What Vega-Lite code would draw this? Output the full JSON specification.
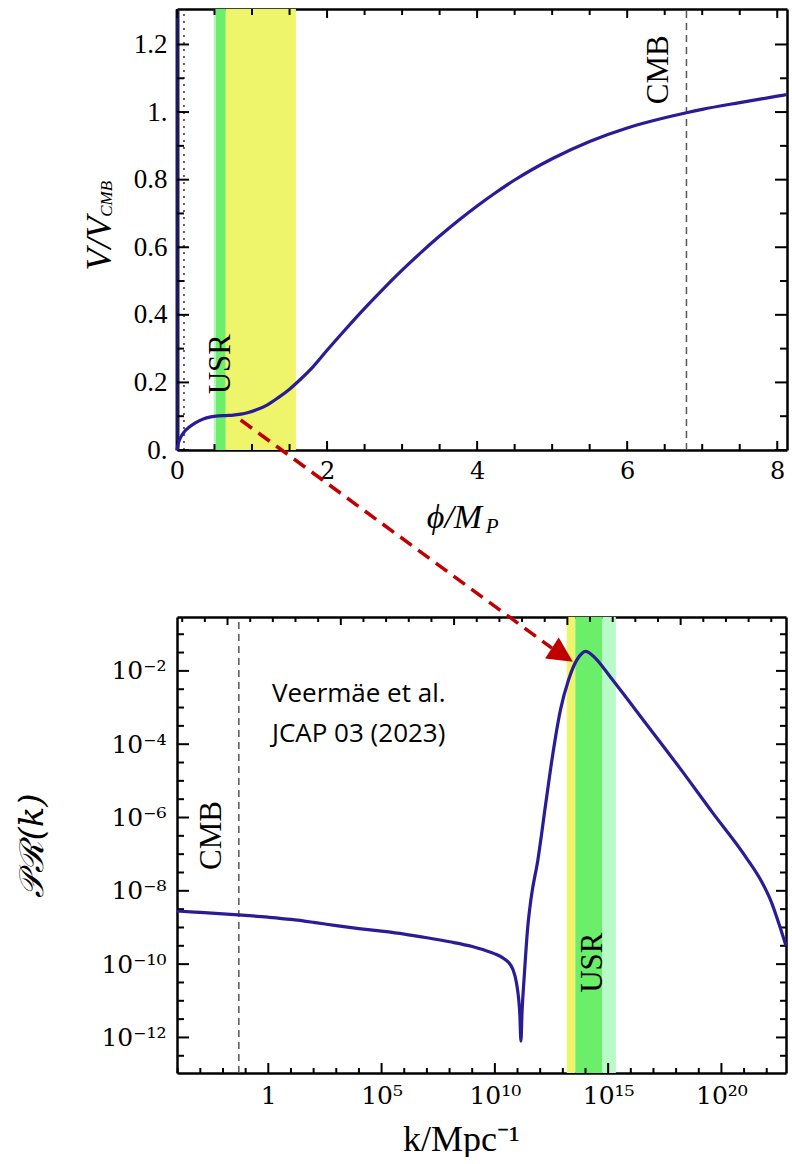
{
  "$schema": "https://vega.github.io/schema/vega-lite/v6.json",
  "background": "white",
  "padding": {"left": 15, "top": 8, "right": 0, "bottom": 0},
  "autosize": {"type": "pad"},
  "bounds": "flush",
  "spacing": 167,
  "config": {
    "view": {"stroke": null},
    "axis": {"grid": false, "ticks": false, "domainColor": "black", "domainWidth": 2.5, "labelColor": "black", "titleColor": "black", "labelFlush": false, "labelOverlap": false, "labelBound": false, "zindex": 1}
  },
  "datasets": {
    "phiMajor": [{"phi": 0}, {"phi": 2}, {"phi": 4}, {"phi": 6}, {"phi": 8}],
    "phiMinor": [{"phi": 0.5}, {"phi": 1}, {"phi": 1.5}, {"phi": 2.5}, {"phi": 3}, {"phi": 3.5}, {"phi": 4.5}, {"phi": 5}, {"phi": 5.5}, {"phi": 6.5}, {"phi": 7}, {"phi": 7.5}],
    "vMajor": [{"v": 0}, {"v": 0.2}, {"v": 0.4}, {"v": 0.6}, {"v": 0.8}, {"v": 1}, {"v": 1.2}],
    "vMinor": [{"v": 0.1}, {"v": 0.3}, {"v": 0.5}, {"v": 0.7}, {"v": 0.9}, {"v": 1.1}],
    "kMajor": [{"k": 1}, {"k": 1e5}, {"k": 1e10}, {"k": 1e15}, {"k": 1e20}],
    "kMinor": [{"k": 1e-4}, {"k": 1e-3}, {"k": 1e-2}, {"k": 1e-1}, {"k": 10}, {"k": 100}, {"k": 1e3}, {"k": 1e4}, {"k": 1e6}, {"k": 1e7}, {"k": 1e8}, {"k": 1e9}, {"k": 1e11}, {"k": 1e12}, {"k": 1e13}, {"k": 1e14}, {"k": 1e16}, {"k": 1e17}, {"k": 1e18}, {"k": 1e19}, {"k": 1e21}, {"k": 1e22}],
    "kTopMajor": [{"k": 0.015849}, {"k": 1584.9}, {"k": 1.5849e8}, {"k": 1.5849e13}, {"k": 1.5849e18}],
    "kTopMinor": [{"k": 1.5849e-4}, {"k": 1.5849e-3}, {"k": 0.15849}, {"k": 1.5849}, {"k": 15.849}, {"k": 158.49}, {"k": 1.5849e4}, {"k": 1.5849e5}, {"k": 1.5849e6}, {"k": 1.5849e7}, {"k": 1.5849e9}, {"k": 1.5849e10}, {"k": 1.5849e11}, {"k": 1.5849e12}, {"k": 1.5849e14}, {"k": 1.5849e15}, {"k": 1.5849e16}, {"k": 1.5849e17}, {"k": 1.5849e19}, {"k": 1.5849e20}, {"k": 1.5849e21}, {"k": 1.5849e22}],
    "pMajor": [{"P": 1e-2}, {"P": 1e-4}, {"P": 1e-6}, {"P": 1e-8}, {"P": 1e-10}, {"P": 1e-12}],
    "pMinor": [{"P": 0.1}, {"P": 0.031623}, {"P": 3.1623e-3}, {"P": 1e-3}, {"P": 3.1623e-4}, {"P": 3.1623e-5}, {"P": 1e-5}, {"P": 3.1623e-6}, {"P": 3.1623e-7}, {"P": 1e-7}, {"P": 3.1623e-8}, {"P": 3.1623e-9}, {"P": 1e-9}, {"P": 3.1623e-10}, {"P": 3.1623e-11}, {"P": 1e-11}, {"P": 3.1623e-12}, {"P": 3.1623e-13}]
  },
  "vconcat": [
    {
      "width": 610,
      "height": 441,
      "layer": [
        {
          "data": {"values": [
            {"x1": 0.49, "x2": 0.52, "c": "#b4f7b4"},
            {"x1": 0.52, "x2": 0.65, "c": "#6bef6b"},
            {"x1": 0.65, "x2": 1.585, "c": "#eff56a"}
          ]},
          "mark": {"type": "rect"},
          "encoding": {
            "x": {"field": "x1", "type": "quantitative", "scale": {"domain": [0, 8.13], "nice": false, "zero": false},
              "axis": {"orient": "bottom", "values": [0, 2, 4, 6, 8], "ticks": false, "labelPadding": 9, "labelFont": "DejaVu Serif", "labelFontSize": 24, "format": "d",
                "title": "ϕ/M", "titleFont": "Liberation Serif", "titleFontSize": 34, "titleFontStyle": "italic", "titleFontWeight": "normal", "titleX": 277, "titleY": 77, "titleBaseline": "alphabetic", "titleAlign": "center"}},
            "x2": {"field": "x2"},
            "y": {"datum": 0, "type": "quantitative", "scale": {"domain": [0, 1.305], "nice": false, "zero": false},
              "axis": {"orient": "left", "values": [0, 0.2, 0.4, 0.6, 0.8, 1, 1.2], "ticks": false, "labelPadding": 10, "labelFont": "Liberation Serif", "labelFontSize": 27,
                "labelExpr": "datum.value == 0 ? '0.' : datum.value == 1 ? '1.' : format(datum.value, '.1f')", "domainColor": "#1c1a5c", "domainWidth": 4,
                "title": "V/V", "titleFont": "Liberation Serif", "titleFontSize": 36, "titleFontStyle": "italic", "titleFontWeight": "normal", "titleX": -78, "titleY": 234, "titleAngle": -90, "titleBaseline": "middle", "titleAlign": "center"}},
            "y2": {"datum": 1.305},
            "color": {"field": "c", "type": "nominal", "scale": null}
          }
        },
        {
          "data": {"values": [{"phi": 0.093}]},
          "mark": {"type": "rule", "strokeDash": [2, 5], "strokeWidth": 1.5, "color": "#333333"},
          "encoding": {
            "x": {"field": "phi", "type": "quantitative", "scale": {"domain": [0, 8.13], "nice": false, "zero": false},
              "axis": {"orient": "top", "values": [0, 2, 4, 6, 8], "ticks": false, "labels": false, "title": null}},
            "y": {"datum": 0, "type": "quantitative", "scale": {"domain": [0, 1.305], "nice": false, "zero": false},
              "axis": {"orient": "right", "values": [0, 0.2, 0.4, 0.6, 0.8, 1, 1.2], "ticks": false, "labels": false, "title": null}},
            "y2": {"datum": 1.305}
          }
        },
        {
          "data": {"values": [{"phi": 6.79}]},
          "mark": {"type": "rule", "strokeDash": [7, 5], "strokeWidth": 1.5, "color": "#555555"},
          "encoding": {
            "x": {"field": "phi", "type": "quantitative", "axis": null},
            "y": {"datum": 0, "type": "quantitative", "axis": null},
            "y2": {"datum": 1.305}
          }
        },
        {"data": {"name": "phiMajor"}, "mark": {"type": "tick", "orient": "vertical", "size": 9, "thickness": 2, "yOffset": -4.5, "color": "black", "opacity": 1},
          "encoding": {"x": {"field": "phi", "type": "quantitative", "axis": null}, "y": {"datum": 0, "type": "quantitative", "axis": null}}},
        {"data": {"name": "phiMinor"}, "mark": {"type": "tick", "orient": "vertical", "size": 6, "thickness": 2, "yOffset": -3, "color": "black", "opacity": 1},
          "encoding": {"x": {"field": "phi", "type": "quantitative", "axis": null}, "y": {"datum": 0, "type": "quantitative", "axis": null}}},
        {"data": {"name": "phiMajor"}, "mark": {"type": "tick", "orient": "vertical", "size": 9, "thickness": 2, "yOffset": 4.5, "color": "black", "opacity": 1},
          "encoding": {"x": {"field": "phi", "type": "quantitative", "axis": null}, "y": {"datum": 1.305, "type": "quantitative", "axis": null}}},
        {"data": {"name": "phiMinor"}, "mark": {"type": "tick", "orient": "vertical", "size": 6, "thickness": 2, "yOffset": 3, "color": "black", "opacity": 1},
          "encoding": {"x": {"field": "phi", "type": "quantitative", "axis": null}, "y": {"datum": 1.305, "type": "quantitative", "axis": null}}},
        {"data": {"name": "vMajor"}, "mark": {"type": "tick", "orient": "horizontal", "size": 12, "thickness": 2, "xOffset": 6, "color": "black", "opacity": 1},
          "encoding": {"y": {"field": "v", "type": "quantitative", "axis": null}, "x": {"datum": 0, "type": "quantitative", "axis": null}}},
        {"data": {"name": "vMinor"}, "mark": {"type": "tick", "orient": "horizontal", "size": 7, "thickness": 2, "xOffset": 3.5, "color": "black", "opacity": 1},
          "encoding": {"y": {"field": "v", "type": "quantitative", "axis": null}, "x": {"datum": 0, "type": "quantitative", "axis": null}}},
        {"data": {"name": "vMajor"}, "mark": {"type": "tick", "orient": "horizontal", "size": 12, "thickness": 2, "xOffset": -6, "color": "black", "opacity": 1},
          "encoding": {"y": {"field": "v", "type": "quantitative", "axis": null}, "x": {"datum": 8.13, "type": "quantitative", "axis": null}}},
        {"data": {"name": "vMinor"}, "mark": {"type": "tick", "orient": "horizontal", "size": 7, "thickness": 2, "xOffset": -3.5, "color": "black", "opacity": 1},
          "encoding": {"y": {"field": "v", "type": "quantitative", "axis": null}, "x": {"datum": 8.13, "type": "quantitative", "axis": null}}},
        {
          "data": {"values": [
            {"phi": 0, "v": 0}, {"phi": 0.02, "v": 0.022}, {"phi": 0.05, "v": 0.038}, {"phi": 0.1, "v": 0.055},
            {"phi": 0.16, "v": 0.067}, {"phi": 0.25, "v": 0.081}, {"phi": 0.35, "v": 0.092}, {"phi": 0.45, "v": 0.098},
            {"phi": 0.55, "v": 0.101}, {"phi": 0.65, "v": 0.102}, {"phi": 0.75, "v": 0.103}, {"phi": 0.85, "v": 0.106},
            {"phi": 0.95, "v": 0.111}, {"phi": 1.05, "v": 0.118}, {"phi": 1.2, "v": 0.133}, {"phi": 1.35, "v": 0.155},
            {"phi": 1.5, "v": 0.18}, {"phi": 1.65, "v": 0.21}, {"phi": 1.8, "v": 0.243}, {"phi": 2.0, "v": 0.295},
            {"phi": 2.25, "v": 0.358}, {"phi": 2.5, "v": 0.419}, {"phi": 2.75, "v": 0.477}, {"phi": 3.0, "v": 0.532},
            {"phi": 3.25, "v": 0.584}, {"phi": 3.5, "v": 0.633}, {"phi": 3.75, "v": 0.679}, {"phi": 4.0, "v": 0.722},
            {"phi": 4.25, "v": 0.762}, {"phi": 4.5, "v": 0.799}, {"phi": 5.0, "v": 0.862}, {"phi": 5.5, "v": 0.913},
            {"phi": 6.0, "v": 0.953}, {"phi": 6.5, "v": 0.983}, {"phi": 6.79, "v": 0.998}, {"phi": 7.0, "v": 1.008},
            {"phi": 7.5, "v": 1.028}, {"phi": 8.0, "v": 1.047}, {"phi": 8.13, "v": 1.052}
          ]},
          "mark": {"type": "line", "color": "#2a1b97", "strokeWidth": 3.2, "interpolate": "monotone"},
          "encoding": {
            "x": {"field": "phi", "type": "quantitative", "axis": null},
            "y": {"field": "v", "type": "quantitative", "axis": null}
          }
        },
        {
          "data": {"values": [
            {"phi": 0.58, "v": 0.254, "t": "USR"},
            {"phi": 6.43, "v": 1.125, "t": "CMB"}
          ]},
          "mark": {"type": "text", "angle": -90, "font": "Liberation Serif", "fontSize": 31, "align": "center", "baseline": "middle", "color": "black"},
          "encoding": {
            "x": {"field": "phi", "type": "quantitative", "axis": null},
            "y": {"field": "v", "type": "quantitative", "axis": null},
            "text": {"field": "t"}
          }
        },
        {
          "data": {"values": [{"phi": -0.933, "v": 0.743, "t": "CMB"}]},
          "mark": {"type": "text", "angle": -90, "font": "Liberation Serif", "fontSize": 17, "fontStyle": "italic", "align": "center", "baseline": "middle", "color": "black"},
          "encoding": {
            "x": {"field": "phi", "type": "quantitative", "axis": null},
            "y": {"field": "v", "type": "quantitative", "axis": null},
            "text": {"field": "t"}
          }
        },
        {
          "data": {"values": [{"phi": 4.2, "v": -0.227, "t": "P"}]},
          "mark": {"type": "text", "font": "Liberation Serif", "fontSize": 21, "fontStyle": "italic", "align": "center", "baseline": "middle", "color": "black"},
          "encoding": {
            "x": {"field": "phi", "type": "quantitative", "axis": null},
            "y": {"field": "v", "type": "quantitative", "axis": null},
            "text": {"field": "t"}
          }
        }
      ],
      "resolve": {"axis": {"x": "independent", "y": "independent"}}
    },
    {
      "width": 609,
      "height": 456,
      "layer": [
        {
          "data": {"values": [
            {"k1": 1.479e13, "k2": 3.548e13, "c": "#eff56a"},
            {"k1": 3.548e13, "k2": 5.623e14, "c": "#6bef6b"},
            {"k1": 5.623e14, "k2": 2.188e15, "c": "#b8fac8"}
          ]},
          "mark": {"type": "rect"},
          "encoding": {
            "x": {"field": "k1", "type": "quantitative", "scale": {"type": "log", "domain": [9.333e-5, 7.079e22], "nice": false},
              "axis": {"orient": "bottom", "values": [1, 1e5, 1e10, 1e15, 1e20], "ticks": false, "labelPadding": 10, "labelFont": "DejaVu Serif", "labelFontSize": 25,
                "labelExpr": "['1','','','','','10⁵','','','','','10¹⁰','','','','','10¹⁵','','','','','10²⁰'][round(log(datum.value)/LN10)]",
                "title": "k/Mpc⁻¹", "titleFont": "Liberation Serif", "titleFontSize": 36, "titleFontWeight": "normal", "titleX": 284, "titleY": 77, "titleBaseline": "alphabetic", "titleAlign": "center"}},
            "x2": {"field": "k2"},
            "y": {"datum": 1.0715e-13, "type": "quantitative", "scale": {"type": "log", "domain": [1.0715e-13, 0.2951], "nice": false},
              "axis": {"orient": "left", "values": [1e-2, 1e-4, 1e-6, 1e-8, 1e-10, 1e-12], "ticks": false, "labelPadding": 11, "labelFont": "DejaVu Serif", "labelFontSize": 25,
                "labelExpr": "['','','10⁻²','','10⁻⁴','','10⁻⁶','','10⁻⁸','','10⁻¹⁰','','10⁻¹²'][round(-log(datum.value)/LN10)]",
                "title": "𝒫ℛ(k)", "titleFont": "DejaVu Serif", "titleFontSize": 34, "titleFontStyle": "italic", "titleFontWeight": "normal", "titleX": -145, "titleY": 228, "titleAngle": -90, "titleBaseline": "middle", "titleAlign": "center"}},
            "y2": {"datum": 0.2951},
            "color": {"field": "c", "type": "nominal", "scale": null}
          }
        },
        {
          "data": {"values": [{"k": 0.05}]},
          "mark": {"type": "rule", "strokeDash": [7, 5], "strokeWidth": 1.5, "color": "#555555"},
          "encoding": {
            "x": {"field": "k", "type": "quantitative", "scale": {"type": "log", "domain": [9.333e-5, 7.079e22], "nice": false},
              "axis": {"orient": "top", "values": [1, 1e5, 1e10, 1e15, 1e20], "ticks": false, "labels": false, "title": null}},
            "y": {"datum": 1.0715e-13, "type": "quantitative", "scale": {"type": "log", "domain": [1.0715e-13, 0.2951], "nice": false},
              "axis": {"orient": "right", "values": [1e-2, 1e-4, 1e-6, 1e-8, 1e-10, 1e-12], "ticks": false, "labels": false, "title": null}},
            "y2": {"datum": 0.2951}
          }
        },
        {"data": {"name": "kMajor"}, "mark": {"type": "tick", "orient": "vertical", "size": 10, "thickness": 2, "yOffset": -5, "color": "black", "opacity": 1},
          "encoding": {"x": {"field": "k", "type": "quantitative", "axis": null}, "y": {"datum": 1.0715e-13, "type": "quantitative", "axis": null}}},
        {"data": {"name": "kMinor"}, "mark": {"type": "tick", "orient": "vertical", "size": 5, "thickness": 2, "yOffset": -2.5, "color": "black", "opacity": 1},
          "encoding": {"x": {"field": "k", "type": "quantitative", "axis": null}, "y": {"datum": 1.0715e-13, "type": "quantitative", "axis": null}}},
        {"data": {"name": "kTopMajor"}, "mark": {"type": "tick", "orient": "vertical", "size": 8, "thickness": 2, "yOffset": 4, "color": "black", "opacity": 1},
          "encoding": {"x": {"field": "k", "type": "quantitative", "axis": null}, "y": {"datum": 0.2951, "type": "quantitative", "axis": null}}},
        {"data": {"name": "kTopMinor"}, "mark": {"type": "tick", "orient": "vertical", "size": 5, "thickness": 2, "yOffset": 2.5, "color": "black", "opacity": 1},
          "encoding": {"x": {"field": "k", "type": "quantitative", "axis": null}, "y": {"datum": 0.2951, "type": "quantitative", "axis": null}}},
        {"data": {"name": "pMajor"}, "mark": {"type": "tick", "orient": "horizontal", "size": 12, "thickness": 2, "xOffset": 6, "color": "black", "opacity": 1},
          "encoding": {"y": {"field": "P", "type": "quantitative", "axis": null}, "x": {"datum": 9.333e-5, "type": "quantitative", "axis": null}}},
        {"data": {"name": "pMinor"}, "mark": {"type": "tick", "orient": "horizontal", "size": 7, "thickness": 2, "xOffset": 3.5, "color": "black", "opacity": 1},
          "encoding": {"y": {"field": "P", "type": "quantitative", "axis": null}, "x": {"datum": 9.333e-5, "type": "quantitative", "axis": null}}},
        {"data": {"name": "pMajor"}, "mark": {"type": "tick", "orient": "horizontal", "size": 10, "thickness": 2, "xOffset": -5, "color": "black", "opacity": 1},
          "encoding": {"y": {"field": "P", "type": "quantitative", "axis": null}, "x": {"datum": 7.079e22, "type": "quantitative", "axis": null}}},
        {"data": {"name": "pMinor"}, "mark": {"type": "tick", "orient": "horizontal", "size": 6, "thickness": 2, "xOffset": -3, "color": "black", "opacity": 1},
          "encoding": {"y": {"field": "P", "type": "quantitative", "axis": null}, "x": {"datum": 7.079e22, "type": "quantitative", "axis": null}}},
        {
          "data": {"values": [
            {"k": 9.333e-5, "P": 2.818e-9}, {"k": 1e-3, "P": 2.570e-9}, {"k": 1e-2, "P": 2.344e-9}, {"k": 0.1, "P": 2.138e-9},
            {"k": 1, "P": 1.905e-9}, {"k": 10, "P": 1.660e-9}, {"k": 100, "P": 1.380e-9}, {"k": 1e3, "P": 1.122e-9},
            {"k": 1e4, "P": 9.333e-10}, {"k": 1e5, "P": 7.943e-10}, {"k": 1e6, "P": 6.607e-10}, {"k": 1e7, "P": 5.248e-10},
            {"k": 1e8, "P": 4.074e-10}, {"k": 1e9, "P": 3.020e-10}, {"k": 3.162e9, "P": 2.455e-10}, {"k": 1e10, "P": 1.905e-10},
            {"k": 1.995e10, "P": 1.549e-10}, {"k": 3.981e10, "P": 1.122e-10}, {"k": 6.310e10, "P": 7.079e-11}, {"k": 8.913e10, "P": 3.162e-11},
            {"k": 1.122e11, "P": 1.122e-11}, {"k": 1.259e11, "P": 4.467e-12}, {"k": 1.413e11, "P": 7.943e-13}, {"k": 1.585e11, "P": 5.012e-12},
            {"k": 1.995e11, "P": 5.012e-11}, {"k": 2.818e11, "P": 1e-9}, {"k": 3.981e11, "P": 6.310e-9}, {"k": 7.943e11, "P": 7.079e-8},
            {"k": 1.778e12, "P": 2.512e-6}, {"k": 3.548e12, "P": 5.012e-5}, {"k": 7.943e12, "P": 8.913e-4}, {"k": 1.778e13, "P": 5.623e-3},
            {"k": 3.981e13, "P": 1.905e-2}, {"k": 7.079e13, "P": 3.020e-2}, {"k": 1e14, "P": 3.388e-2}, {"k": 1.413e14, "P": 3.162e-2},
            {"k": 2.512e14, "P": 2.344e-2}, {"k": 1.585e15, "P": 5.623e-3}, {"k": 4.467e16, "P": 3.802e-4}, {"k": 1.413e18, "P": 2.291e-5},
            {"k": 3.981e19, "P": 1.380e-6}, {"k": 1.259e21, "P": 7.943e-8}, {"k": 6.310e21, "P": 1.660e-8}, {"k": 1.585e22, "P": 5.012e-9},
            {"k": 3.548e22, "P": 1.202e-9}, {"k": 7.079e22, "P": 3.162e-10}
          ]},
          "mark": {"type": "line", "color": "#2a1b97", "strokeWidth": 3.2, "interpolate": "monotone"},
          "encoding": {
            "x": {"field": "k", "type": "quantitative", "axis": null},
            "y": {"field": "P", "type": "quantitative", "axis": null}
          }
        },
        {
          "data": {"values": [
            {"k": 1.445, "P": 1.445e-3, "t": "Veermäe et al."},
            {"k": 1.445, "P": 1.175e-4, "t": "JCAP 03 (2023)"}
          ]},
          "mark": {"type": "text", "font": "Open Sans", "fontSize": 26, "align": "left", "baseline": "alphabetic", "color": "black"},
          "encoding": {
            "x": {"field": "k", "type": "quantitative", "axis": null},
            "y": {"field": "P", "type": "quantitative", "axis": null},
            "text": {"field": "t"}
          }
        },
        {
          "data": {"values": [
            {"k": 2.042e14, "P": 1.096e-10, "t": "USR"},
            {"k": 3.388e-3, "P": 3.236e-7, "t": "CMB"}
          ]},
          "mark": {"type": "text", "angle": -90, "font": "Liberation Serif", "fontSize": 31, "align": "center", "baseline": "middle", "color": "black"},
          "encoding": {
            "x": {"field": "k", "type": "quantitative", "axis": null},
            "y": {"field": "P", "type": "quantitative", "axis": null},
            "text": {"field": "t"}
          }
        },
        {
          "data": {"values": [{"k": 0.0603, "P": 69980, "k2": 3.311e12, "P2": 0.04169}]},
          "mark": {"type": "rule", "color": "#c00000", "strokeWidth": 3.5, "strokeDash": [14, 8]},
          "encoding": {
            "x": {"field": "k", "type": "quantitative", "axis": null},
            "y": {"field": "P", "type": "quantitative", "axis": null},
            "x2": {"field": "k2"},
            "y2": {"field": "P2"}
          }
        },
        {
          "data": {"values": [{"k": 9.55e12, "P": 0.02729}]},
          "mark": {"type": "point", "shape": "M 1 0 L -1 -1 L -1 1 Z", "size": 625, "angle": 33, "filled": true, "color": "#c00000", "opacity": 1, "strokeWidth": 0},
          "encoding": {
            "x": {"field": "k", "type": "quantitative", "axis": null},
            "y": {"field": "P", "type": "quantitative", "axis": null}
          }
        }
      ],
      "resolve": {"axis": {"x": "independent", "y": "independent"}}
    }
  ]
}
